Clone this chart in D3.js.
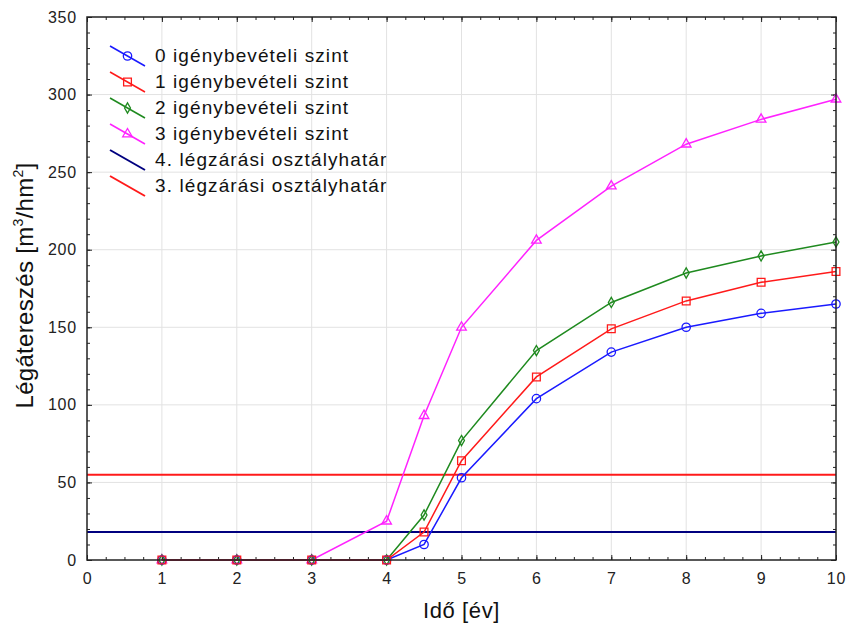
<!DOCTYPE html>
<html>
<head>
<meta charset="utf-8">
<script src="https://cdn.jsdelivr.net/npm/d3@7"></script>
<style>
  body { margin: 0; background: #fff; }
  text { font-family: "Liberation Sans", Arial, sans-serif; }
</style>
</head>
<body>
<script>
const years = [1, 2, 3, 4, 4.5, 5, 6, 7, 8, 9, 10];
const level0 = [0, 0, 0, 0, 10, 53, 104, 134, 150, 159, 165];
const level1 = [0, 0, 0, 0, 18, 64, 118, 149, 167, 179, 186];
const level2 = [0, 0, 0, 0, 29, 77, 135, 166, 185, 196, 205];
const level3x = [1, 2, 3, 4, 4.5, 5, 6, 7, 8, 9, 10];
const level3 = [0, 0, 0, 25, 93, 150, 206, 241, 268, 284, 297];
const limits = [18, 55];
const seriesNames = ['0 igénybevételi szint', '1 igénybevételi szint', '2 igénybevételi szint', '3 igénybevételi szint'];
const limitNames = ['4. légzárási osztályhatár', '3. légzárási osztályhatár'];
const xTicks = [0, 1, 2, 3, 4, 5, 6, 7, 8, 9, 10];
const yTicks = [0, 50, 100, 150, 200, 250, 300, 350];

const W = 847, H = 627;
const margin = { top: 17, right: 11, bottom: 67, left: 87 };
const width = W - margin.left - margin.right;
const height = H - margin.top - margin.bottom;

const svg = d3.select('body').append('svg')
  .attr('width', W).attr('height', H);
const g = svg.append('g').attr('transform', `translate(${margin.left},${margin.top})`);

const x = d3.scaleLinear().domain([0, 10]).range([0, width]);
const y = d3.scaleLinear().domain([0, 350]).range([height, 0]);

// grid
g.selectAll('.vgrid').data(xTicks.slice(1, -1)).enter().append('line')
  .attr('x1', d => x(d)).attr('x2', d => x(d)).attr('y1', 0).attr('y2', height)
  .attr('stroke', '#e2e2e2').attr('stroke-width', 1);
g.selectAll('.hgrid').data(yTicks.slice(1, -1)).enter().append('line')
  .attr('y1', d => y(d)).attr('y2', d => y(d)).attr('x1', 0).attr('x2', width)
  .attr('stroke', '#e2e2e2').attr('stroke-width', 1);

// axes with inner ticks
const xMinor = d3.range(0, 10.001, 0.25);
const yMinor = d3.range(0, 350.001, 10);
const axB = d3.axisBottom(x).tickValues(xTicks).tickSize(-5).tickPadding(13).tickFormat(d3.format('d'));
const axL = d3.axisLeft(y).tickValues(yTicks).tickSize(-5).tickPadding(10);
const xa = g.append('g').attr('transform', `translate(0,${height})`).call(axB);
const ya = g.append('g').call(axL);
g.append('g').attr('transform', `translate(0,${height})`)
  .call(d3.axisBottom(x).tickValues(xMinor).tickSize(-3).tickFormat(''));
g.append('g').call(d3.axisLeft(y).tickValues(yMinor).tickSize(-3).tickFormat(''));
g.append('g').call(d3.axisTop(x).tickValues(xMinor).tickSize(-3).tickFormat(''));
g.append('g').attr('transform', `translate(${width},0)`)
  .call(d3.axisRight(y).tickValues(yMinor).tickSize(-3).tickFormat(''));
g.append('g').attr('transform', `translate(${width},0)`)
  .call(d3.axisRight(y).tickValues(yTicks).tickSize(-5).tickFormat(''));
g.append('g').call(d3.axisTop(x).tickValues(xTicks).tickSize(-5).tickFormat(''));
g.selectAll('.domain').remove();
g.selectAll('.tick line').attr('stroke', '#222');
[xa, ya].forEach(a => a.selectAll('text').attr('font-size', 16).attr('fill', '#222')
  .style('letter-spacing', '0.8px')
  .style('font-family', '"Liberation Sans", Arial, sans-serif'));

// limit lines
const limitColors = ['#00007f', '#ff1a1a'];
limits.forEach((v, i) => {
  g.append('line').attr('x1', 0).attr('x2', width).attr('y1', y(v)).attr('y2', y(v))
    .attr('stroke', limitColors[i]).attr('stroke-width', 2);
});

const colors = ['#1a1aff', '#ff1a1a', '#1f8a1f', '#ff22ff'];
const symbols = [d3.symbolCircle, d3.symbolSquare, d3.symbolDiamond, d3.symbolTriangle];
const symSizes = [55, 60, 30, 40];
const series = [
  { xs: years, ys: level0 },
  { xs: years, ys: level1 },
  { xs: years, ys: level2 },
  { xs: level3x, ys: level3 }
];
const line = d3.line().x(d => x(d[0])).y(d => y(d[1]));

const drawOrder = [3, 2, 0, 1];
drawOrder.forEach(i => {
  const pts = series[i].xs.map((v, k) => [v, series[i].ys[k]]);
  g.append('path').datum(pts).attr('d', line)
    .attr('fill', 'none').attr('stroke', colors[i]).attr('stroke-width', 1.5);
});
drawOrder.forEach(i => {
  const pts = series[i].xs.map((v, k) => [v, series[i].ys[k]]);
  g.selectAll(null).data(pts).enter().append('path')
    .attr('d', d3.symbol().type(symbols[i]).size(symSizes[i]))
    .attr('transform', d => `translate(${x(d[0])},${y(d[1])})`)
    .attr('fill', 'none').attr('stroke', colors[i]).attr('stroke-width', 1.3);
});

// frame
g.append('rect').attr('width', width).attr('height', height)
  .attr('fill', 'none').attr('stroke', '#222').attr('stroke-width', 1.5);

// legend
const legend = svg.append('g').attr('transform', 'translate(110,46)');
const legItems = seriesNames.map((n, i) => ({ name: n, color: colors[i], sym: symbols[i], size: symSizes[i] }))
  .concat(limitNames.map((n, i) => ({ name: n, color: limitColors[i], sym: null })));
legItems.forEach((it, i) => {
  const row = legend.append('g').attr('transform', `translate(0,${i * 26})`);
  row.append('line').attr('x1', 0).attr('y1', 0).attr('x2', 35).attr('y2', 20)
    .attr('stroke', it.color).attr('stroke-width', it.sym ? 1.5 : 2);
  if (it.sym) {
    row.append('path').attr('d', d3.symbol().type(it.sym).size(it.size))
      .attr('transform', 'translate(17.5,10)')
      .attr('fill', 'none').attr('stroke', it.color).attr('stroke-width', 1.3);
  }
  row.append('text').attr('x', 45).attr('y', 16).attr('font-size', 19).attr('fill', '#111')
    .style('letter-spacing', '1.1px')
    .text(it.name);
});

// axis titles
svg.append('text').attr('x', margin.left + x(5)).attr('y', 618)
  .attr('text-anchor', 'middle').attr('font-size', 22).attr('fill', '#111')
  .style('letter-spacing', '0.6px')
  .text('Idő [év]');
const yt = svg.append('text')
  .attr('transform', `translate(33,${margin.top + height / 2 - 3}) rotate(-90)`)
  .attr('text-anchor', 'middle').attr('font-size', 24).attr('fill', '#111')
  .style('letter-spacing', '0.3px');
yt.append('tspan').text('Légátereszés [m');
yt.append('tspan').attr('font-size', 14).attr('dy', -10).text('3');
yt.append('tspan').attr('dy', 10).text('/hm');
yt.append('tspan').attr('font-size', 14).attr('dy', -10).text('2');
yt.append('tspan').attr('dy', 10).text(']');
</script>
</body>
</html>
